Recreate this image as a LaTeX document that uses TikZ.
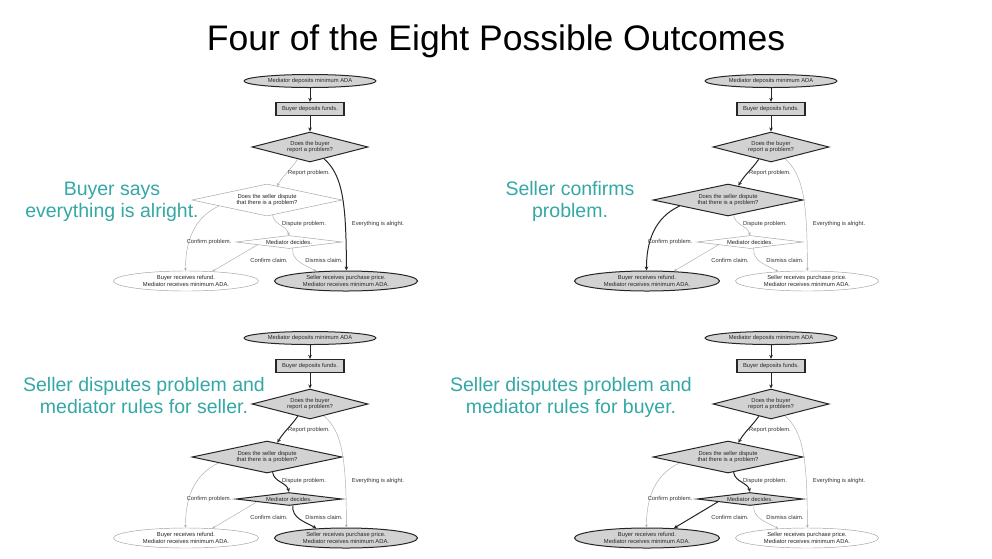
\documentclass[tikz,border=0pt]{standalone}
\usepackage{fontspec}
\setmainfont{Liberation Sans}
\usetikzlibrary{shapes.geometric,arrows.meta}
\definecolor{tealtext}{RGB}{52,168,166}
\definecolor{hifill}{RGB}{210,210,210}
\newcommand\outcomeflow[4]{%
\begin{scope}[shift={(#2,#3)},#4]
\node[ell, hiN, minimum width=132pt, minimum height=13pt] (top#1) at (310,-81) {Mediator deposits minimum ADA};
\node[boxn, hiN, line width=1.3pt, minimum width=68pt, minimum height=13pt] (dep#1) at (310,-109) {Buyer deposits funds.};
\node[dia, hiN, minimum width=116pt, minimum height=30pt, shape aspect=3.9] (qa#1) at (310,-147) {Does the buyer\\report a problem?};
\node[dia, sfour, minimum width=150pt, minimum height=32pt, shape aspect=4.7] (qb#1) at (267,-200) {Does the seller dispute\\that there is a problem?};
\node[dia, sfive, minimum width=106pt, minimum height=13pt, shape aspect=8] (qc#1) at (289,-242) {Mediator decides.};
\node[ell, ssix, minimum width=145pt, minimum height=20pt] (ref#1) at (186,-281) {Buyer receives refund.\\Mediator receives minimum ADA.};
\node[ell, sseven, minimum width=143pt, minimum height=20pt] (pay#1) at (346,-281) {Seller receives purchase price.\\Mediator receives minimum ADA.};
\draw[hiE] (top#1) -- (dep#1);
\draw[hiE] (dep#1) -- (qa#1);
\draw[eRep] (qa#1.225) to[out=235,in=60] (qb#1.54);
\draw[eAll] (qa#1.-40) .. controls +(18,-16) and +(0,70) .. (pay#1.88);
\draw[eCp] (qb#1.187) to[out=205,in=90] (ref#1.93);
\draw[eDp] (qb#1.-70) to[out=-80,in=105] (qc#1.north);
\draw[eCc] (qc#1.185) -- (ref#1.20);
\draw[eDc] (qc#1.-60) to[out=-95,in=150] (pay#1.162);
\node[elab] (lrep#1) at (309,-173) {Report problem.};
\node[elab] (lall#1) at (378,-224) {Everything is alright.};
\node[elab] (lcp#1) at (209,-242) {Confirm problem.};
\node[elab] (ldp#1) at (304,-224) {Dispute problem.};
\node[elab] (lcc#1) at (269,-260) {Confirm claim.};
\node[elab] (ldc#1) at (324,-260) {Dismiss claim.};
\end{scope}}
\begin{document}
\begin{tikzpicture}[x=1pt,y=1pt,
  nodebase/.style={inner sep=0pt, align=center, font=\fontsize{5.8}{6.3}\selectfont, text=black!85},
  hiN/.style={fill=hifill, draw=black!85, line width=1pt},
  loN/.style={fill=white, draw=gray!75, line width=0.45pt},
  hiE/.style={draw=black!85, line width=1pt, -{Stealth[length=4pt,width=3.6pt]}},
  loE/.style={draw=gray!65, line width=0.45pt, -{Stealth[length=3pt,width=2.6pt]}},
  elab/.style={font=\fontsize{5.8}{6.3}\selectfont, text=black!80, inner sep=0.5pt},
  ell/.style={nodebase, ellipse},
  dia/.style={nodebase, diamond},
  boxn/.style={nodebase, rectangle},
  sidetext/.style={text=tealtext, font=\fontsize{19.5}{22}\selectfont, anchor=base, inner sep=0pt},
]
\fill[white] (0,0) rectangle (992,-558);
\path[use as bounding box] (0,0) rectangle (992,-558);
\node[font=\fontsize{35.5}{40}\selectfont, anchor=base, inner sep=0pt] (title) at (496,-50) {Four of the Eight Possible Outcomes};

\outcomeflow{A}{0}{0}{sfour/.style=loN, sfive/.style=loN, ssix/.style=loN, sseven/.style=hiN,
  eRep/.style=loE, eAll/.style=hiE, eCp/.style=loE, eDp/.style=loE, eCc/.style=loE, eDc/.style=loE}
\outcomeflow{B}{461}{0}{sfour/.style=hiN, sfive/.style=loN, ssix/.style=hiN, sseven/.style=loN,
  eRep/.style=hiE, eAll/.style=loE, eCp/.style=hiE, eDp/.style=loE, eCc/.style=loE, eDc/.style=loE}
\outcomeflow{C}{0}{-257}{sfour/.style=hiN, sfive/.style=hiN, ssix/.style=loN, sseven/.style=hiN,
  eRep/.style=hiE, eAll/.style=loE, eCp/.style=loE, eDp/.style=hiE, eCc/.style=loE, eDc/.style=hiE}
\outcomeflow{D}{461}{-257}{sfour/.style=hiN, sfive/.style=hiN, ssix/.style=hiN, sseven/.style=loN,
  eRep/.style=hiE, eAll/.style=loE, eCp/.style=loE, eDp/.style=hiE, eCc/.style=hiE, eDc/.style=loE}

\node[sidetext] (sAa) at (112,-195) {Buyer says};
\node[sidetext] (sAb) at (112,-217) {everything is alright.};
\node[sidetext] (sBa) at (570,-195) {Seller confirms};
\node[sidetext] (sBb) at (570,-217) {problem.};
\node[sidetext] (sCa) at (144,-391) {Seller disputes problem and};
\node[sidetext] (sCb) at (144,-413) {mediator rules for seller.};
\node[sidetext] (sDa) at (571,-391) {Seller disputes problem and};
\node[sidetext] (sDb) at (571,-413) {mediator rules for buyer.};
\end{tikzpicture}
\end{document}
